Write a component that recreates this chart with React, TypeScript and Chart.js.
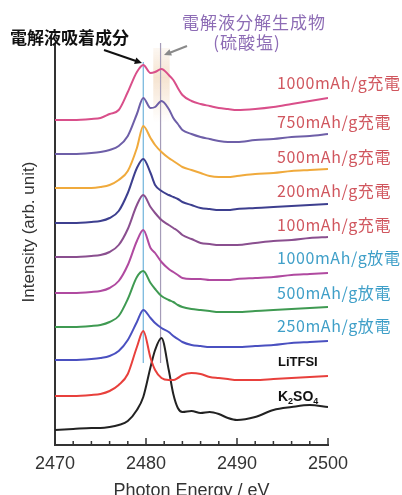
import React, { useEffect, useRef } from "react";
import { Chart, registerables } from "chart.js";

Chart.register(...registerables);

// ---------- data ----------
const energies = [2470, 2472, 2474, 2475, 2476, 2477, 2478, 2479, 2479.7, 2480.5, 2481, 2481.7, 2482.5, 2483, 2483.5, 2484, 2485, 2486, 2487, 2488, 2489, 2490, 2492, 2494, 2496, 2498, 2500];

const seriesLabels = [
  "1000mAh/g充電",
  "750mAh/g充電",
  "500mAh/g充電",
  "200mAh/g充電",
  "100mAh/g充電",
  "1000mAh/g放電",
  "500mAh/g放電",
  "250mAh/g放電",
  "LiTFSI",
  "K2SO4",
];

// vertical offset of each spectrum (arb. unit)
const offsets = [325, 291, 257, 222, 188, 152, 118, 85, 49, 15];

const charge1000 = [0, 0, 1, 2, 6, 10, 28, 48, 55, 47, 48, 51, 45, 40, 32, 25, 19, 16, 14, 12, 11, 10, 11, 13, 16, 19, 22];
const charge750 = [0, 0, 1, 2, 4, 8, 18, 40, 56, 46, 47, 53, 45, 36, 30, 24, 20, 17, 15, 13, 12, 12, 14, 15, 17, 18, 20];
const charge500 = [0, 0, 0, 1, 3, 8, 17, 40, 62, 50, 43, 36, 30, 27, 24, 21, 18, 15, 12, 11, 11, 12, 14, 15, 17, 18, 19];
const charge200 = [0, 0, 1, 2, 5, 12, 30, 55, 64, 50, 38, 32, 28, 26, 24, 21, 18, 15, 14, 13, 13, 14, 15, 16, 17, 18, 19];
const charge100 = [0, 0, 1, 2, 5, 12, 28, 52, 62, 50, 44, 37, 32, 29, 26, 22, 18, 14, 13, 12, 12, 12, 14, 16, 17, 19, 20];
const discharge1000 = [0, 0, 1, 2, 5, 12, 28, 52, 63, 45, 40, 31, 24, 21, 18, 15, 14, 14, 13, 13, 13, 14, 15, 16, 18, 19, 20];
const discharge500 = [0, 0, 1, 2, 5, 11, 28, 50, 56, 44, 38, 31, 27, 25, 22, 20, 18, 17, 16, 15, 15, 15, 16, 17, 18, 19, 20];
const discharge250 = [0, 0, 1, 2, 4, 9, 20, 38, 50, 42, 37, 32, 28, 24, 21, 18, 15, 14, 13, 13, 13, 13, 14, 15, 17, 18, 19];
const liTFSI = [0, 0, 1, 2, 5, 11, 22, 49, 65, 38, 26, 18, 16, 16, 18, 21, 23, 22, 19, 18, 17, 16, 16, 17, 18, 19, 20];
const k2so4 = [0, 1, 2, 2, 3, 5, 9, 20, 33, 63, 80, 92, 60, 36, 22, 18, 19, 17, 18, 16, 12, 10, 13, 20, 23, 25, 23];

const spectra = [charge1000, charge750, charge500, charge200, charge100, discharge1000, discharge500, discharge250, liTFSI, k2so4];

const xTickLabels = ["2470", "2480", "2490", "2500"];

// ---------- styles ----------
const lineColors = ["#d94f8a", "#6e5fa8", "#f0aa3c", "#3d3f8f", "#8a4f8f", "#b04aa0", "#3f9a52", "#4a50c0", "#e8403c", "#222222"];
const chargeColor = "#d0565e";
const dischargeColor = "#3f9fc8";
const purpleText = "#8d6cb5";
const cjk = "'Noto Sans CJK JP', 'Noto Sans', sans-serif";
const latin = "'Liberation Sans', Arial, sans-serif";

function arrow(ctx: CanvasRenderingContext2D, x0: number, y0: number, x1: number, y1: number, color: string, w: number) {
  const ang = Math.atan2(y1 - y0, x1 - x0);
  const hl = 8;
  ctx.save();
  ctx.strokeStyle = color;
  ctx.fillStyle = color;
  ctx.lineWidth = w;
  ctx.beginPath();
  ctx.moveTo(x0, y0);
  ctx.lineTo(x1 - Math.cos(ang) * hl * 0.7, y1 - Math.sin(ang) * hl * 0.7);
  ctx.stroke();
  ctx.beginPath();
  ctx.moveTo(x1, y1);
  ctx.lineTo(x1 - hl * Math.cos(ang - 0.45), y1 - hl * Math.sin(ang - 0.45));
  ctx.lineTo(x1 - hl * Math.cos(ang + 0.45), y1 - hl * Math.sin(ang + 0.45));
  ctx.closePath();
  ctx.fill();
  ctx.restore();
}

const annotPlugin = {
  id: "annot",
  beforeDatasetsDraw(chart: any) {
    const { ctx, scales } = chart;
    const x = scales.x;
    const y = scales.y;
    ctx.save();
    // shaded band (decomposition product)
    const bx0 = x.getPixelForValue(2480.8);
    const bx1 = x.getPixelForValue(2482.6);
    const by0 = 48;
    const by1 = 122;
    const g = ctx.createLinearGradient(0, by0, 0, by1);
    g.addColorStop(0, "rgba(238,205,170,0.15)");
    g.addColorStop(0.4, "rgba(238,205,170,0.55)");
    g.addColorStop(1, "rgba(238,205,170,0.0)");
    ctx.fillStyle = g;
    ctx.fillRect(bx0, by0, bx1 - bx0, by1 - by0);
    // reference lines
    ctx.lineWidth = 1.2;
    ctx.strokeStyle = "#6fb3dc";
    const lx1 = x.getPixelForValue(2479.7);
    ctx.beginPath();
    ctx.moveTo(lx1, y.getPixelForValue(383));
    ctx.lineTo(lx1, y.getPixelForValue(82));
    ctx.stroke();
    ctx.strokeStyle = "#a59cb8";
    const lx2 = x.getPixelForValue(2481.6);
    ctx.beginPath();
    ctx.moveTo(lx2, 43);
    ctx.lineTo(lx2, y.getPixelForValue(82));
    ctx.stroke();
    ctx.restore();
  },
  afterDraw(chart: any) {
    const { ctx, chartArea, scales } = chart;
    const x = scales.x;
    ctx.save();
    // inward ticks on x axis
    ctx.strokeStyle = "#333";
    ctx.lineWidth = 1.5;
    for (let v = 2470; v <= 2500; v += 2) {
      const px = x.getPixelForValue(v);
      const len = v % 10 === 0 ? 7 : 4;
      ctx.beginPath();
      ctx.moveTo(px, chartArea.bottom);
      ctx.lineTo(px, chartArea.bottom - len);
      ctx.stroke();
    }
    // y-axis title
    ctx.save();
    ctx.translate(29, 232);
    ctx.rotate(-Math.PI / 2);
    ctx.font = `17px ${latin}`;
    ctx.fillStyle = "#333";
    ctx.textAlign = "center";
    ctx.textBaseline = "middle";
    ctx.fillText("Intensity (arb. unit)", 0, 0);
    ctx.restore();

    // series labels
    const labelY = [83, 122, 157, 191, 225, 258, 293, 326, 362, 397];
    const lx = 277;
    ctx.textBaseline = "middle";
    ctx.textAlign = "left";
    (ctx as any).letterSpacing = "0.6px";
    for (let i = 0; i < 8; i++) {
      ctx.font = `16px ${cjk}`;
      ctx.fillStyle = i < 5 ? chargeColor : dischargeColor;
      ctx.fillText(seriesLabels[i], lx, labelY[i]);
    }
    (ctx as any).letterSpacing = "0px";
    ctx.fillStyle = "#111";
    ctx.font = `bold 13px ${latin}`;
    ctx.fillText(seriesLabels[8], lx + 1, labelY[8]);
    // K2SO4 with subscripts
    let cx = lx + 1;
    const ky = labelY[9];
    const parts: [string, boolean][] = [["K", false], ["2", true], ["SO", false], ["4", true]];
    for (const [t, sub] of parts) {
      ctx.font = sub ? `bold 9px ${latin}` : `bold 14px ${latin}`;
      ctx.fillText(t, cx, sub ? ky + 5 : ky);
      cx += ctx.measureText(t).width;
    }

    // top annotations
    ctx.fillStyle = "#111";
    ctx.font = `bold 17px ${cjk}`;
    ctx.fillText("電解液吸着成分", 10, 38);
    ctx.fillStyle = purpleText;
    ctx.font = `17px ${cjk}`;
    ctx.textAlign = "center";
    (ctx as any).letterSpacing = "1px";
    ctx.fillText("電解液分解生成物", 254, 23);
    ctx.fillText("(硫酸塩)", 247, 43);
    (ctx as any).letterSpacing = "0px";

    arrow(ctx, 104, 50, 142, 63, "#111", 2);
    arrow(ctx, 187, 46, 164, 55, "#8a8a8a", 2);
    ctx.restore();
  },
};

export default function App() {
  const canvasRef = useRef<HTMLCanvasElement | null>(null);

  useEffect(() => {
    if (!canvasRef.current) return;
    Chart.defaults.font.family = latin;
    const datasets = spectra.map((s, i) => ({
      label: seriesLabels[i],
      data: s.map((v, j) => ({ x: energies[j], y: v + offsets[i] })),
      borderColor: lineColors[i],
      backgroundColor: lineColors[i],
      borderWidth: 2,
      pointRadius: 0,
      fill: false,
      cubicInterpolationMode: "monotone" as const,
    }));
    const chart = new Chart(canvasRef.current, {
      type: "line",
      data: { datasets },
      options: {
        animation: false,
        responsive: false,
        maintainAspectRatio: false,
        layout: { padding: { left: 55, right: 74, top: 45, bottom: 0 } },
        plugins: { legend: { display: false }, tooltip: { enabled: false } },
        scales: {
          x: {
            type: "linear",
            min: 2470,
            max: 2500,
            afterFit: (s: any) => {
              s.height = 50;
            },
            grid: { display: false, drawTicks: false },
            border: { display: true, color: "#333", width: 2 },
            ticks: {
              stepSize: 10,
              autoSkip: false,
              maxRotation: 0,
              padding: 8,
              color: "#333",
              font: { size: 18, family: latin },
              callback: (_v: any, i: number) => xTickLabels[i],
            },
            title: {
              display: true,
              text: "Photon Energy / eV",
              color: "#333",
              font: { size: 18, family: latin },
              padding: { top: 0, bottom: -7 },
            },
          },
          y: {
            min: 0,
            max: 400,
            afterFit: (s: any) => {
              s.width = 0;
            },
            grid: { display: false, drawTicks: false },
            border: { display: true, color: "#333", width: 2 },
            ticks: { display: false },
          },
        },
      },
      plugins: [annotPlugin],
    });
    return () => chart.destroy();
  }, []);

  return (
    <div style={{ position: "absolute", left: 0, top: 0, width: 402, height: 495, background: "#fff" }}>
      <canvas ref={canvasRef} width={402} height={495} style={{ width: 402, height: 495, display: "block" }} />
    </div>
  );
}
